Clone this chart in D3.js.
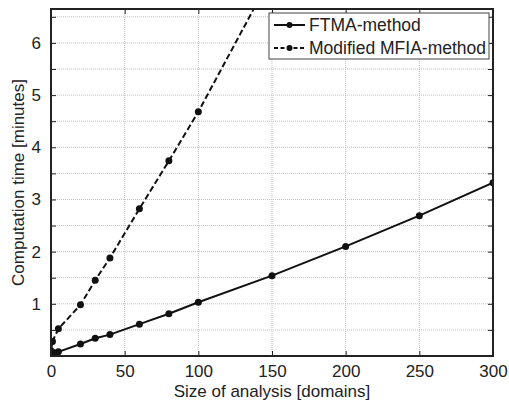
<!DOCTYPE html>
<html><head><meta charset="utf-8">
<script src="https://cdn.jsdelivr.net/npm/d3@7"></script>
<style>body{margin:0;background:#fff}svg{display:block;font-family:"Liberation Sans",Arial,sans-serif}</style>
</head><body>
<script>
const seriesNames = ["FTMA-method", "Modified MFIA-method"];
const ftmaX = [0, 1, 2, 5, 20, 30, 40, 60, 80, 100, 150, 200, 250, 300];
const ftmaY = [0.04, 0.05, 0.06, 0.08, 0.23, 0.34, 0.41, 0.61, 0.81, 1.03, 1.54, 2.10, 2.69, 3.32];
const mfiaX = [0, 1, 5, 20, 30, 40, 60, 80, 100, 150];
const mfiaY = [0.1, 0.28, 0.52, 0.98, 1.45, 1.88, 2.82, 3.74, 4.68, 7.3];
const xTicks = [0, 50, 100, 150, 200, 250, 300];
const yTicks = [0.5, 1, 1.5, 2, 2.5, 3, 3.5, 4, 4.5, 5, 5.5, 6, 6.5];
const yLabels = [1, 2, 3, 4, 5, 6];
const xTitle = "Size of analysis [domains]";
const yTitle = "Computation time [minutes]";

const W = 509, H = 405;
const L = 51, R = 493, T = 9, B = 356;
const svg = d3.select("body").append("svg").attr("width", W).attr("height", H);
const x = d3.scaleLinear().domain([0, 300]).range([L, R]);
const y = d3.scaleLinear().domain([0, 6.65]).range([B, T]);

// grid
const g = svg.append("g");
g.selectAll(".gx").data(xTicks.slice(1, -1)).join("line")
  .attr("x1", d => x(d)).attr("x2", d => x(d)).attr("y1", T).attr("y2", B)
  .attr("stroke", "#c0c0c0").attr("stroke-width", 1).attr("stroke-dasharray", "1,1");
g.selectAll(".gy").data(yTicks).join("line")
  .attr("x1", L).attr("x2", R).attr("y1", d => y(d)).attr("y2", d => y(d))
  .attr("stroke", "#c0c0c0").attr("stroke-width", 1).attr("stroke-dasharray", "1,1");

// clip
svg.append("clipPath").attr("id", "c").append("rect")
  .attr("x", L).attr("y", T).attr("width", R - L).attr("height", B - T);
const plot = svg.append("g").attr("clip-path", "url(#c)");
const line = d3.line().x(d => x(d[0])).y(d => y(d[1]));
const data = [
  { pts: ftmaX.map((v, i) => [v, ftmaY[i]]), dash: null },
  { pts: mfiaX.map((v, i) => [v, mfiaY[i]]), dash: "6,3" }
];
data.forEach(s => {
  plot.append("path").attr("d", line(s.pts)).attr("fill", "none")
    .attr("stroke", "#111").attr("stroke-width", 2)
    .attr("stroke-dasharray", s.dash);
  plot.selectAll(null).data(s.pts).join("circle")
    .attr("cx", d => x(d[0])).attr("cy", d => y(d[1])).attr("r", 3.5).attr("fill", "#111");
});

// axes with inward ticks
const ax = svg.append("g");
const xb = d3.axisBottom(x).tickValues(xTicks).tickSize(-5).tickPadding(9).tickFormat(d3.format("d"));
const xt = d3.axisTop(x).tickValues(xTicks).tickSize(-5).tickFormat("");
const yl = d3.axisLeft(y).tickValues(yTicks).tickSize(-5).tickPadding(10)
  .tickFormat(d => yLabels.includes(d) ? d : "");
const yr = d3.axisRight(y).tickValues(yTicks).tickSize(-5).tickFormat("");
[[xb, `translate(0,${B})`], [xt, `translate(0,${T})`], [yl, `translate(${L},0)`], [yr, `translate(${R},0)`]]
  .forEach(([a, tr]) => {
    const gg = ax.append("g").attr("transform", tr).call(a);
    gg.select(".domain").remove();
    gg.selectAll("line").attr("stroke", "#222").attr("stroke-width", 1);
    gg.selectAll("text").attr("font-size", 17).attr("fill", "#222")
      .attr("font-family", '"Liberation Sans",Arial,sans-serif');
  });
svg.append("rect").attr("x", L).attr("y", T).attr("width", R - L).attr("height", B - T)
  .attr("fill", "none").attr("stroke", "#222").attr("stroke-width", 2);

// titles
svg.append("text").attr("x", (L + R) / 2).attr("y", 397).attr("text-anchor", "middle")
  .attr("font-size", 17).attr("fill", "#222").text(xTitle);
svg.append("text").attr("transform", `translate(24,${(T + B) / 2}) rotate(-90)`)
  .attr("text-anchor", "middle").attr("font-size", 17).attr("fill", "#222").text(yTitle);

// legend
const lg = svg.append("g");
lg.append("rect").attr("x", 269).attr("y", 13).attr("width", 220).attr("height", 46)
  .attr("fill", "#fff").attr("stroke", "#444").attr("stroke-width", 1);
seriesNames.forEach((name, i) => {
  const ly = 25 + i * 23;
  lg.append("line").attr("x1", 274).attr("x2", 305).attr("y1", ly).attr("y2", ly)
    .attr("stroke", "#111").attr("stroke-width", 2)
    .attr("stroke-dasharray", data[i].dash ? "4,2.5" : null);
  lg.append("circle").attr("cx", 289.5).attr("cy", ly).attr("r", 3).attr("fill", "#111");
  lg.append("text").attr("x", 309).attr("y", ly + 6).attr("font-size", 17.5).attr("fill", "#222").text(name);
});
</script>
</body></html>
